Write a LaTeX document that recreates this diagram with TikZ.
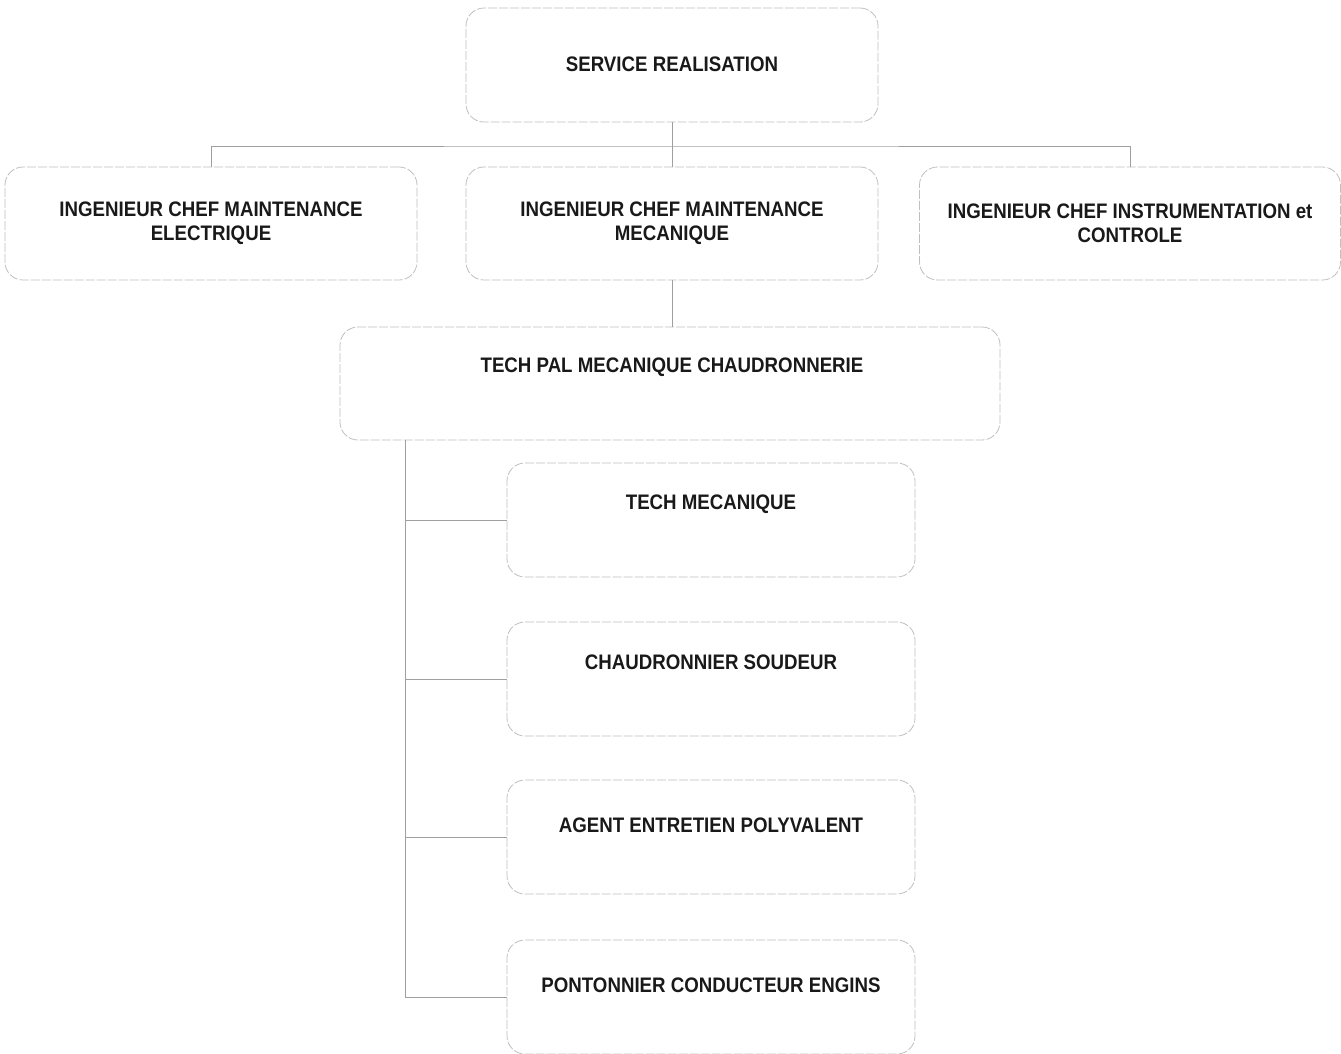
\documentclass[tikz,border=0pt]{standalone}
\usepackage{fontspec}
\setmainfont{Liberation Sans}[FakeStretch=0.89]
\begin{document}
\begin{tikzpicture}[x=1pt,y=-1pt,
  box/.style={draw=gray!50, line width=0.8pt, dash pattern=on 9pt off 2pt,
    rounded corners=18pt, rectangle, inner sep=0pt, fill=none},
  wide/.style={box, minimum width=412pt, minimum height=114pt},
  child/.style={box, minimum width=408pt, minimum height=114pt},
  txt/.style={font=\fontsize{21}{24}\selectfont\bfseries, align=center,
    text=black!90, inner sep=0pt},
  link/.style={draw=gray!75, line width=0.8pt}]
\useasboundingbox (0,0) rectangle (1341,1053);

% boxes
\node[wide] (top) at (672,65) {};
\node[wide, minimum height=113pt] (elec) at (211,223.5) {};
\node[wide, minimum height=113pt] (mec) at (672,223.5) {};
\node[wide, minimum width=421pt, minimum height=113pt] (instr) at (1130,223.5) {};
\node[box, minimum width=660pt, minimum height=113pt] (pal) at (670,383.5) {};
\node[child] (c1) at (711,520) {};
\node[child] (c2) at (711,679) {};
\node[child] (c3) at (711,837) {};
\node[child] (c4) at (711,997) {};

% labels
\node[txt] (ttop) at (672,64.5) {SERVICE REALISATION};
\node[txt] (telec) at (211,223.5) {INGENIEUR CHEF MAINTENANCE\\ELECTRIQUE};
\node[txt] (tmec) at (672,223.5) {INGENIEUR CHEF MAINTENANCE\\MECANIQUE};
\node[txt] (tinstr) at (1130,223.5) {INGENIEUR CHEF INSTRUMENTATION et\\CONTROLE};
\node[txt] (tpal) at (672,367.5) {TECH PAL MECANIQUE CHAUDRONNERIE};
\node[txt] (tc1) at (711,504.5) {TECH MECANIQUE};
\node[txt] (tc2) at (711,662.5) {CHAUDRONNIER SOUDEUR};
\node[txt] (tc3) at (711,825.5) {AGENT ENTRETIEN POLYVALENT};
\node[txt] (tc4) at (711,985.5) {PONTONNIER CONDUCTEUR ENGINS};

% connectors
\coordinate (bus) at (672,146);
\coordinate (trunk) at (405,440);
\path[link] (top.south) -- (mec.north);
\path[link] (elec.north) |- (bus) -| (instr.north);
\path[link] (mec.south) -- (mec.south |- pal.north);
\path[link] (trunk) |- (c4.west);
\path[link] (trunk) |- (c1.west);
\path[link] (trunk) |- (c2.west);
\path[link] (trunk) |- (c3.west);
\end{tikzpicture}
\end{document}
